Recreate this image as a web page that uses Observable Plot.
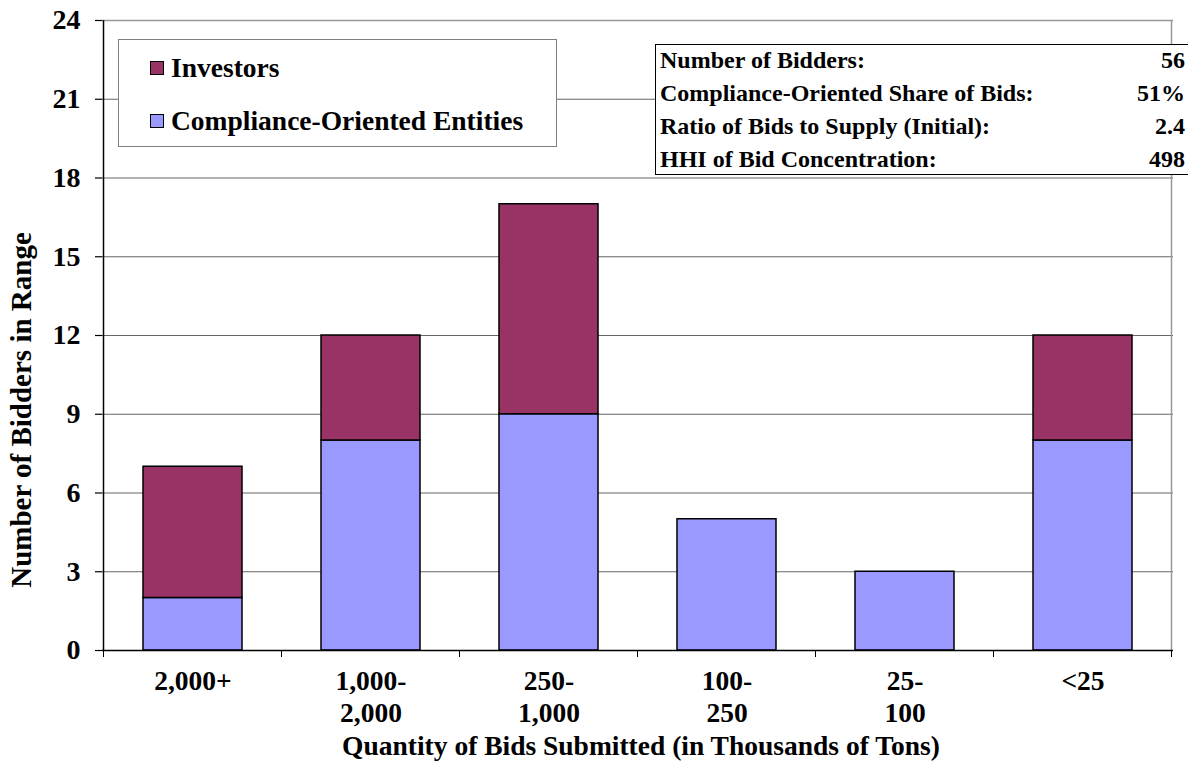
<!DOCTYPE html>
<html>
<head>
<meta charset="utf-8">
<script src="https://cdn.jsdelivr.net/npm/d3@7"></script>
<script src="https://cdn.jsdelivr.net/npm/@observablehq/plot@0.6"></script>
<style>
  html, body { margin: 0; padding: 0; background: #fff; overflow: hidden; }
  #wrap { position: relative; width: 1188px; height: 762px; overflow: hidden;
          font-family: "Liberation Serif", "Times New Roman", serif; font-weight: bold; color: #000; }
  #wrap svg { position: absolute; left: 0; top: 0; }
  .legend { position: absolute; left: 118px; top: 39px; width: 439px; height: 108px;
            border: 1px solid #808080; background: #fff; box-sizing: border-box; }
  .legend .item { position: absolute; left: 31px; font-size: 27.5px; line-height: 28px; white-space: nowrap; }
  .legend .sw { display: inline-block; width: 12px; height: 12px; border: 1px solid #000;
                margin-right: 7px; vertical-align: 2px; }
  .stats { position: absolute; left: 655px; top: 44px; width: 560px; height: 131px;
           border: 1.5px solid #000; background: #fff; box-sizing: border-box; }
  .stats .row { position: absolute; left: 4px; width: 525px; font-size: 24px; line-height: 24px; white-space: nowrap; }
  .stats .row .v { position: absolute; right: 0; top: 0; }
  .ylab { position: absolute; left: 21px; top: 410px; transform: translate(-50%, -50%) rotate(-90deg);
          font-size: 29px; white-space: nowrap; }
  .xlab { position: absolute; left: 641px; top: 746px; transform: translate(-50%, -50%);
          font-size: 27.5px; line-height: 28px; white-space: nowrap; }
</style>
</head>
<body>
<div id="wrap"></div>
<script>
// ---- data ----
const categories = ["2,000+", "1,000-2,000", "250-1,000", "100-250", "25-100", "<25"];
const tickLabels = ["2,000+", "1,000-\n2,000", "250-\n1,000", "100-\n250", "25-\n100", "<25"];
const seriesNames = ["Compliance-Oriented Entities", "Investors"];
const compliance = [2, 8, 9, 5, 3, 8];
const investors = [5, 4, 8, 0, 0, 4];
const yTicks = [0, 3, 6, 9, 12, 15, 18, 21, 24];
const statLabels = ["Number of Bidders:", "Compliance-Oriented Share of Bids:", "Ratio of Bids to Supply (Initial):", "HHI of Bid Concentration:"];
const statValues = ["56", "51%", "2.4", "498"];
const colors = ["#9999FF", "#993366"];
const xTitle = "Quantity of Bids Submitted (in Thousands of Tons)";
const yTitle = "Number of Bidders in Range";

const table = [];
categories.forEach((c, i) => {
  table.push({cat: c, series: seriesNames[0], value: compliance[i]});
  table.push({cat: c, series: seriesNames[1], value: investors[i]});
});
const bars = table.filter(d => d.value > 0);
const labelOf = Object.fromEntries(categories.map((c, i) => [c, tickLabels[i]]));

// band-boundary tick marks and frame lines, positioned from the x scale
function boundaryTicks(index, scales, values, dims) {
  const x = scales.x, step = x.step();
  const g = d3.create("svg:g");
  const y0 = dims.height - dims.marginBottom;
  const edges = categories.map(c => x(c) + x.bandwidth() / 2 - step / 2);
  edges.push(x(categories[categories.length - 1]) + x.bandwidth() / 2 + step / 2);
  for (const e of edges) {
    g.append("line").attr("x1", e).attr("x2", e).attr("y1", y0).attr("y2", y0 + 7)
      .attr("stroke", "#000").attr("stroke-width", 1);
  }
  const right = edges[edges.length - 1];
  g.append("line").attr("x1", right).attr("x2", right)
    .attr("y1", dims.marginTop).attr("y2", y0).attr("stroke", "#999").attr("stroke-width", 1.5);
  g.append("line").attr("x1", edges[0]).attr("x2", edges[0])
    .attr("y1", dims.marginTop).attr("y2", y0).attr("stroke", "#000").attr("stroke-width", 1.5);
  return g.node();
}

const chart = Plot.plot({
  width: 1188,
  height: 762,
  marginLeft: 102,
  marginRight: 15,
  marginTop: 20,
  marginBottom: 112,
  style: {fontFamily: "'Liberation Serif', 'Times New Roman', serif", fontWeight: "bold", fontSize: "24px", color: "#000", background: "transparent"},
  x: {domain: categories, paddingInner: 0.445, paddingOuter: 0.2225, label: null},
  y: {domain: [0, 24], label: null},
  color: {domain: seriesNames, range: colors},
  marks: [
    Plot.ruleY(yTicks.filter(d => d > 0 && d < 24), {stroke: "#666", strokeWidth: 1.2, strokeOpacity: 1}),
    Plot.ruleY([24], {stroke: "#999", strokeWidth: 1.5, strokeOpacity: 1}),
    Plot.barY(bars, Plot.stackY({x: "cat", y: "value", fill: "series", order: seriesNames, stroke: "#000", strokeWidth: 1.5})),
    boundaryTicks,
    Plot.axisY({ticks: yTicks, tickSize: 7, tickPadding: 15, fontSize: 28, fontWeight: "bold", stroke: "#000", strokeWidth: 1.2}),
    Plot.ruleY([0], {stroke: "#000", strokeWidth: 1.5}),
    Plot.axisX({tickSize: 0, tickPadding: 17, fontSize: 27.5, fontWeight: "bold", lineHeight: 1.16, tickFormat: d => labelOf[d]})
  ]
});

const wrap = document.getElementById("wrap");
wrap.appendChild(chart);

// legend
const legend = document.createElement("div");
legend.className = "legend";
[seriesNames[1], seriesNames[0]].forEach((name, i) => {
  const it = document.createElement("div");
  it.className = "item";
  it.style.top = (i === 0 ? 14 : 67) + "px";
  const sw = document.createElement("span");
  sw.className = "sw";
  sw.style.background = colors[seriesNames.indexOf(name)];
  it.appendChild(sw);
  it.appendChild(document.createTextNode(name));
  legend.appendChild(it);
});
wrap.appendChild(legend);

// stats box
const stats = document.createElement("div");
stats.className = "stats";
statLabels.forEach((lab, i) => {
  const r = document.createElement("div");
  r.className = "row";
  r.style.top = (3 + i * 33) + "px";
  r.textContent = lab;
  const v = document.createElement("span");
  v.className = "v";
  v.textContent = statValues[i];
  r.appendChild(v);
  stats.appendChild(r);
});
wrap.appendChild(stats);

const yl = document.createElement("div");
yl.className = "ylab"; yl.textContent = yTitle; wrap.appendChild(yl);
const xl = document.createElement("div");
xl.className = "xlab"; xl.textContent = xTitle; wrap.appendChild(xl);
</script>
</body>
</html>
